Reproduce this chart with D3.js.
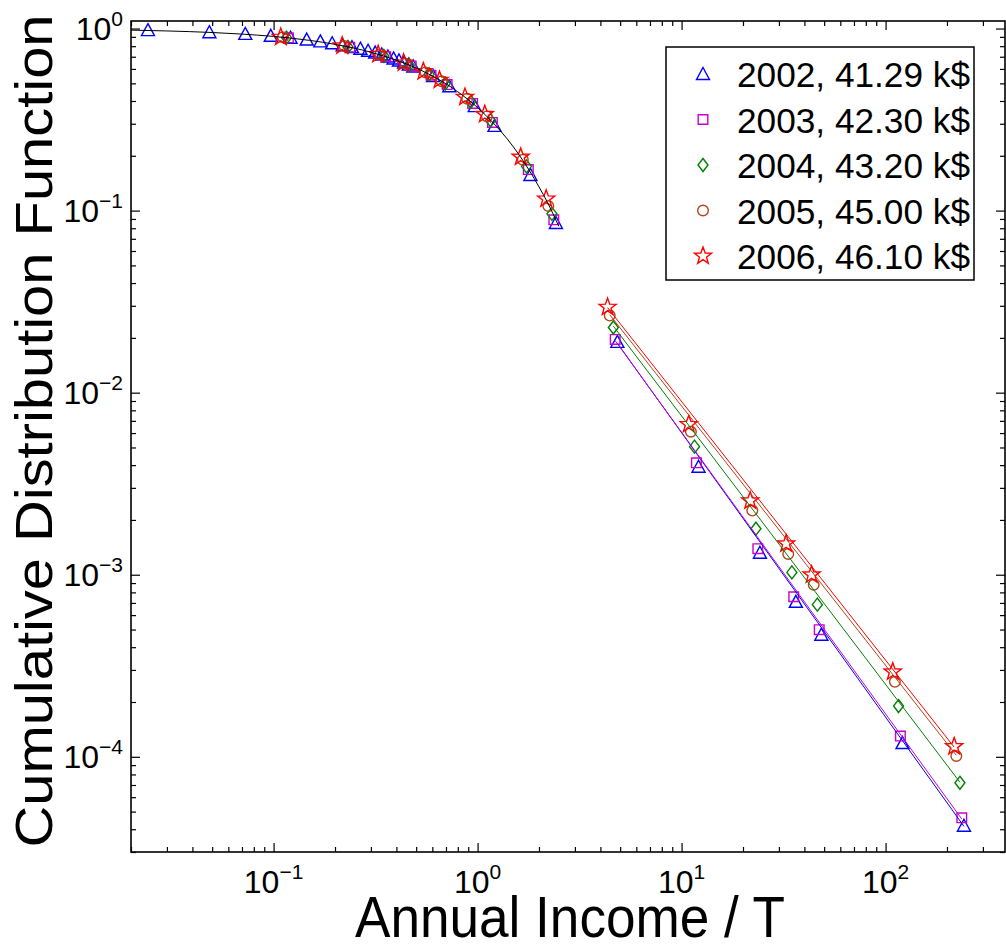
<!DOCTYPE html>
<html>
<head>
<meta charset="utf-8">
<script src="https://cdn.jsdelivr.net/npm/d3@7"></script>
<style>
  body { margin: 0; background: #fff; }
  text { font-family: "Liberation Sans", Arial, Helvetica, sans-serif; fill: #000; }
</style>
</head>
<body>
<div id="chart"></div>
<script>
// ---- data ----
var years = ["2002", "2003", "2004", "2005", "2006"];
var avgIncome = [41.29, 42.30, 43.20, 45.00, 46.10];          // T, k$
var colors = ["#0000ff", "#cc00cc", "#008000", "#b0461c", "#ff0000"];
var shapes = ["triangle", "square", "diamond", "circle", "star"];

// income thresholds, k$
var bodyThresholds2002 = [1, 2, 3, 4, 5, 6, 7, 8, 9, 10, 11, 12, 13, 14, 15, 16, 17, 18, 19, 20, 25, 30, 40, 50, 75, 100];
var bodyThresholds = [5, 10, 15, 20, 25, 30, 40, 50, 75, 100];
var tailThresholds = [200, 500, 1000, 1500, 2000, 5000, 10000];

// cumulative distribution, lower-income part
var body2002 = [0.98, 0.955, 0.935, 0.912, 0.89, 0.87, 0.85, 0.83, 0.81, 0.79, 0.775, 0.755, 0.738, 0.72, 0.702, 0.685, 0.668, 0.651, 0.635, 0.619, 0.548, 0.482, 0.375, 0.292, 0.157, 0.0855];
var body2003 = [0.889, 0.79, 0.701, 0.623, 0.554, 0.492, 0.388, 0.305, 0.168, 0.089];
var body2004 = [0.891, 0.793, 0.707, 0.629, 0.561, 0.499, 0.396, 0.313, 0.175, 0.096];
var body2005 = [0.895, 0.801, 0.717, 0.641, 0.574, 0.513, 0.411, 0.329, 0.19, 0.106];
var body2006 = [0.897, 0.805, 0.722, 0.648, 0.581, 0.521, 0.42, 0.338, 0.197, 0.116];

// cumulative distribution, high-income tail
var tail2002 = [0.0190, 0.00392, 0.00132, 0.00071, 0.000468, 0.000119, 0.0000418];
var tail2003 = [0.0196, 0.00412, 0.00139, 0.000757, 0.000499, 0.000130, 0.0000462];
var tail2004 = [0.0228, 0.00505, 0.00179, 0.00103, 0.000685, 0.000190, 0.0000720];
var tail2005 = [0.0265, 0.0061, 0.00225, 0.00130, 0.00088, 0.000258, 0.000101];
var tail2006 = [0.0295, 0.0067, 0.00255, 0.00148, 0.00100, 0.000293, 0.000114];

// power-law fit lines: CDF at first and last tail point
var fitStart = [0.0187, 0.0193, 0.0232, 0.0268, 0.0293];
var fitEnd = [0.0000415, 0.0000455, 0.0000725, 0.000102, 0.000113];

// exponential fit (black), income / T vs CDF
var expX = [0.02, 0.03, 0.05, 0.07, 0.1, 0.15, 0.2, 0.3, 0.4, 0.5, 0.6, 0.7, 0.8, 1.0, 1.2, 1.4, 1.6, 1.8, 2.0, 2.2, 2.5];
var expY = [0.980, 0.970, 0.951, 0.932, 0.905, 0.861, 0.819, 0.741, 0.670, 0.607, 0.549, 0.497, 0.449, 0.368, 0.301, 0.247, 0.202, 0.165, 0.135, 0.111, 0.082];

var xTicks = [0.1, 1, 10, 100];
var yTicks = [1e-4, 1e-3, 1e-2, 1e-1, 1];

// ---- layout ----
var width = 1006, height = 949;
var plot = {left: 131, right: 1005, top: 21, bottom: 852};

var svg = d3.select("#chart").append("svg")
    .attr("width", width)
    .attr("height", height);

var x = d3.scaleLog().domain([0.02, 385]).range([plot.left, plot.right]);
var y = d3.scaleLog().domain([3e-5, 1.1]).range([plot.bottom, plot.top]);

// ---- axes: inward ticks on all four sides ----
var minorX = x.ticks().filter(function(d) { return xTicks.indexOf(d) < 0; });
var minorY = y.ticks().filter(function(d) { return yTicks.indexOf(d) < 0; });

function tickAxis(axisFn, scale, values, len, transform) {
  var g = svg.append("g")
      .attr("transform", transform)
      .call(axisFn(scale).tickValues(values).tickSize(-len).tickFormat(""));
  g.select(".domain").remove();
  g.selectAll("line").attr("stroke", "#000").attr("stroke-width", 1.2);
}
tickAxis(d3.axisBottom, x, xTicks, 9, `translate(0,${plot.bottom})`);
tickAxis(d3.axisBottom, x, minorX, 5, `translate(0,${plot.bottom})`);
tickAxis(d3.axisTop, x, xTicks, 9, `translate(0,${plot.top})`);
tickAxis(d3.axisTop, x, minorX, 5, `translate(0,${plot.top})`);
tickAxis(d3.axisLeft, y, yTicks, 9, `translate(${plot.left},0)`);
tickAxis(d3.axisLeft, y, minorY, 5, `translate(${plot.left},0)`);
tickAxis(d3.axisRight, y, yTicks, 9, `translate(${plot.right},0)`);
tickAxis(d3.axisRight, y, minorY, 5, `translate(${plot.right},0)`);

svg.append("rect")
    .attr("x", plot.left).attr("y", plot.top)
    .attr("width", plot.right - plot.left)
    .attr("height", plot.bottom - plot.top)
    .attr("fill", "none").attr("stroke", "#000").attr("stroke-width", 1.6);

// tick labels 10^n
function power(d) { return Math.round(Math.log10(d)); }

svg.selectAll(".xlab").data(xTicks).enter().append("text")
    .attr("class", "xlab")
    .attr("x", function(d) { return x(d); })
    .attr("y", 893)
    .attr("text-anchor", "middle")
    .style("font-size", "32px")
    .each(function(d) {
      var t = d3.select(this);
      t.append("tspan").text("10");
      t.append("tspan").attr("dy", -14).style("font-size", "21px").text(power(d) < 0 ? "\u2212" + (-power(d)) : power(d));
    });

svg.selectAll(".ylab").data(yTicks).enter().append("text")
    .attr("class", "ylab")
    .attr("x", 123)
    .attr("y", function(d) { return y(d) + 11; })
    .attr("text-anchor", "end")
    .style("font-size", "32px")
    .each(function(d) {
      var t = d3.select(this);
      t.append("tspan").text("10");
      t.append("tspan").attr("dy", -14).style("font-size", "21px").text(power(d) < 0 ? "\u2212" + (-power(d)) : power(d));
    });

// axis titles
svg.append("text")
    .attr("x", 570).attr("y", 937)
    .attr("text-anchor", "middle")
    .attr("textLength", 430).attr("lengthAdjust", "spacingAndGlyphs")
    .style("font-size", "58px")
    .text("Annual Income / T");

svg.append("text")
    .attr("transform", "translate(52,431) rotate(-90)")
    .attr("text-anchor", "middle")
    .attr("textLength", 833).attr("lengthAdjust", "spacingAndGlyphs")
    .style("font-size", "52px")
    .text("Cumulative Distribution Function");

// ---- markers ----
function markerPath(shape) {
  var p = d3.path();
  if (shape === "triangle") {
    p.moveTo(0, -6.5); p.lineTo(6.5, 5.5); p.lineTo(-6.5, 5.5); p.closePath();
  } else if (shape === "square") {
    p.rect(-4.8, -4.8, 9.6, 9.6);
  } else if (shape === "diamond") {
    p.moveTo(0, -6.5); p.lineTo(5, 0); p.lineTo(0, 6.5); p.lineTo(-5, 0); p.closePath();
  } else if (shape === "circle") {
    p.arc(0, 0, 5.3, 0, 2 * Math.PI);
  } else {
    var ro = 9, ri = 3.7;
    for (var k = 0; k < 10; k++) {
      var r = k % 2 === 0 ? ro : ri;
      var a = -Math.PI / 2 + k * Math.PI / 5;
      if (k === 0) p.moveTo(r * Math.cos(a), r * Math.sin(a));
      else p.lineTo(r * Math.cos(a), r * Math.sin(a));
    }
    p.closePath();
  }
  return p.toString();
}

var bodies = [body2002, body2003, body2004, body2005, body2006];
var tails = [tail2002, tail2003, tail2004, tail2005, tail2006];

var series = years.map(function(yr, i) {
  var thr = i === 0 ? bodyThresholds2002 : bodyThresholds;
  var pts = thr.map(function(t, j) { return {x: t / avgIncome[i], y: bodies[i][j]}; })
    .concat(tailThresholds.map(function(t, j) { return {x: t / avgIncome[i], y: tails[i][j]}; }));
  return {year: yr, i: i, points: pts};
});

var markersG = svg.append("g");
series.forEach(function(s) {
  markersG.selectAll(null).data(s.points).enter().append("path")
      .attr("d", markerPath(shapes[s.i]))
      .attr("transform", function(d) { return `translate(${x(d.x)},${y(d.y)})`; })
      .attr("fill", "none")
      .attr("stroke", colors[s.i])
      .attr("stroke-width", 1.4);
});

// ---- fit lines ----
var line = d3.line().x(function(d) { return x(d[0]); }).y(function(d) { return y(d[1]); });

series.forEach(function(s) {
  var x0 = tailThresholds[0] / avgIncome[s.i];
  var x1 = tailThresholds[tailThresholds.length - 1] / avgIncome[s.i];
  svg.append("path")
      .attr("d", line([[x0, fitStart[s.i]], [x1, fitEnd[s.i]]]))
      .attr("fill", "none")
      .attr("stroke", colors[s.i])
      .attr("stroke-width", 1);
});

svg.append("path")
    .attr("d", d3.line().curve(d3.curveMonotoneX)
      .x(function(d) { return x(d[0]); }).y(function(d) { return y(d[1]); })(d3.zip(expX, expY)))
    .attr("fill", "none")
    .attr("stroke", "#000")
    .attr("stroke-width", 1);

// ---- legend ----
var legend = svg.append("g");
legend.append("rect")
    .attr("x", 666).attr("y", 47)
    .attr("width", 308).attr("height", 233)
    .attr("fill", "#fff").attr("stroke", "#000").attr("stroke-width", 1.5);

years.forEach(function(yr, i) {
  var cy = 74 + i * 45.5;
  legend.append("path")
      .attr("d", markerPath(shapes[i]))
      .attr("transform", `translate(703,${cy})`)
      .attr("fill", "none")
      .attr("stroke", colors[i])
      .attr("stroke-width", 1.4);
  legend.append("text")
      .attr("x", 737).attr("y", cy + 13)
      .attr("textLength", 233).attr("lengthAdjust", "spacingAndGlyphs")
      .style("font-size", "35px")
      .text(yr + ", " + avgIncome[i].toFixed(2) + " k$");
});
</script>
</body>
</html>
